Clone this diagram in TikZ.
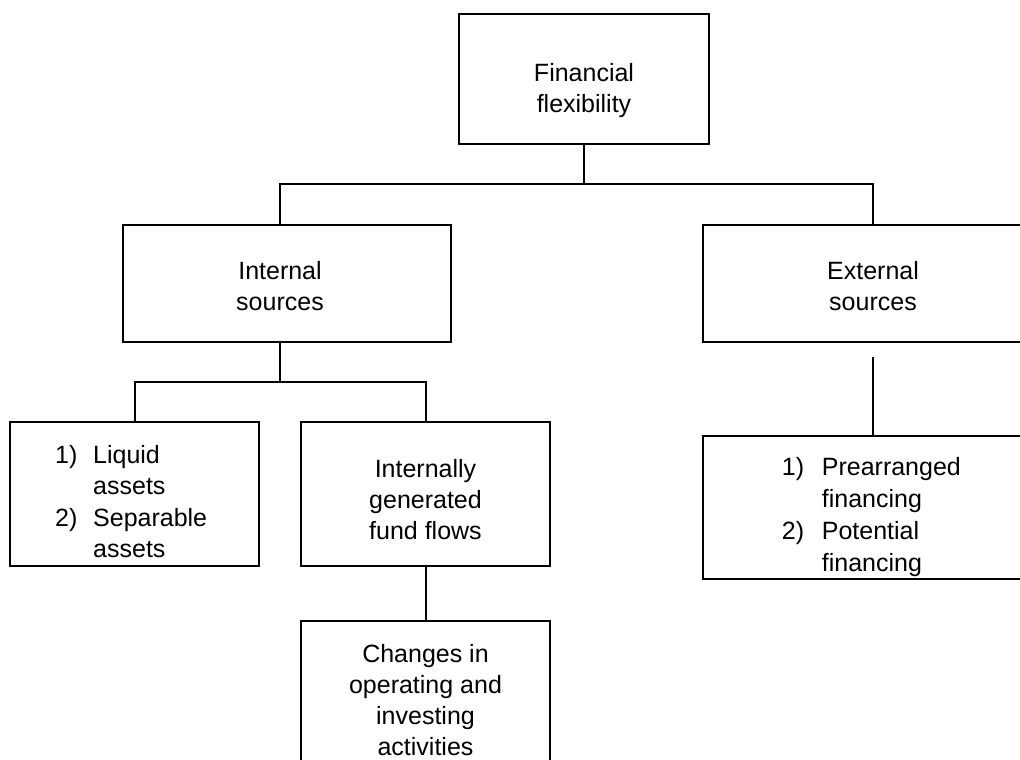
\documentclass[tikz,border=0pt]{standalone}
\usepackage{fontspec}
\setmainfont{Liberation Sans}
\begin{document}
\begin{tikzpicture}[x=1pt,y=-1pt,
  box/.style={draw,rectangle,line width=2pt,inner sep=0pt,outer sep=0pt},
  label/.style={inner sep=0pt,align=center,font=\fontsize{25}{31}\selectfont},
  listtext/.style={inner sep=0pt,anchor=base west,font=\fontsize{25}{31.5}\selectfont},
  link/.style={line width=2pt}]
\useasboundingbox (0,0) rectangle (1020,760);
\clip (0,0) rectangle (1020,760);
\fill[white] (0,0) rectangle (1020,760);

% boxes
\node[box,minimum width=250,minimum height=130] (ff)  at (584,79)    {};
\node[box,minimum width=328,minimum height=117] (int) at (287,283.5) {};
\node[box,minimum width=328,minimum height=117] (ext) at (867,283.5) {};
\node[box,minimum width=249,minimum height=144] (liq) at (134.5,494) {};
\node[box,minimum width=249,minimum height=144] (igf) at (425.5,494) {};
\node[box,minimum width=328,minimum height=143] (pre) at (867,507.5) {};
\node[box,minimum width=249,minimum height=154] (chg) at (425.5,698) {};

% box texts
\node[label] (fft)  at (584,90.8) {Financial\\flexibility};
\node[label] (intt) at (280,286)  {Internal\\sources};
\node[label] (extt) at (873,286)  {External\\sources};
\node[label] (igft) at (425.5,500) {Internally\\generated\\fund flows};
\node[label] (chgt) at (425.5,699.7) {Changes in\\operating and\\investing\\activities};
\node[listtext] (liqt) at (55,463.3) {\begin{tabular}[t]{@{}l@{}l@{}}
  \makebox[38pt][l]{1)} & Liquid\\
   & assets\\
  \makebox[38pt][l]{2)} & Separable\\
   & assets
\end{tabular}};
\node[listtext,font=\fontsize{25}{32}\selectfont] (pret) at (781.7,475) {\begin{tabular}[t]{@{}l@{}l@{}}
  \makebox[40pt][l]{1)} & Prearranged\\
   & financing\\
  \makebox[40pt][l]{2)} & Potential\\
   & financing
\end{tabular}};

% junction points
\coordinate (j1) at (584,184);
\coordinate (jl) at (280,184);
\coordinate (jr) at (873,184);
\coordinate (k)  at (280,382);
\coordinate (kl) at (135,382);
\coordinate (kr) at (425.5,382);
\coordinate (e)  at (873,357);

% connectors
\draw[link] (ff.south) -- (j1);
\draw[link] (int.north -| jl) -- (jl) -- (jr) -- (ext.north -| jr);
\draw[link] (int.south -| k) -- (k);
\draw[link] (liq.north -| kl) -- (kl) -- (kr) -- (igf.north);
\draw[link] (e) -- (pre.north -| e);
\draw[link] (igf.south) -- (chg.north);
\end{tikzpicture}
\end{document}
